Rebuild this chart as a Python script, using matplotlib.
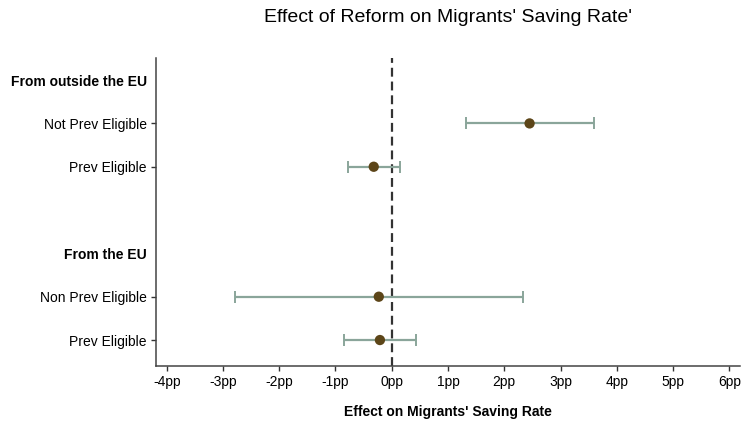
import numpy as np
import matplotlib.pyplot as plt

# coefficient estimates with 95% confidence bounds (percentage points)
labels = ["From outside the EU", "Not Prev Eligible", "Prev Eligible", "",
          "From the EU", "Non Prev Eligible", "Prev Eligible"]
is_header = [True, False, False, True, True, False, False]
coef = [np.nan, 2.45, -0.32, np.nan, np.nan, -0.23, -0.21]
ci_low = [np.nan, 1.32, -0.78, np.nan, np.nan, -2.79, -0.84]
ci_high = [np.nan, 3.59, 0.14, np.nan, np.nan, 2.34, 0.44]
xticks = np.arange(-4, 7)

plt.rcParams['font.family'] = ['Liberation Sans', 'DejaVu Sans']

fig = plt.figure(figsize=(7.43, 4.25), dpi=100)
ax = fig.add_axes([156 / 743, 1 - 365.6 / 425, (740 - 156) / 743, (365.6 - 58) / 425])

pos = np.arange(1, len(labels) + 1)
coef = np.array(coef)
lo = np.array(ci_low)
hi = np.array(ci_high)
ok = ~np.isnan(coef)

ax.axvline(0, color='#333333', lw=1.6, ls=(0, (4, 2.2)), zorder=1)
ax.errorbar(coef[ok], pos[ok], xerr=[coef[ok] - lo[ok], hi[ok] - coef[ok]],
            fmt='none', ecolor='#8aa59a', elinewidth=1.6, capsize=4, capthick=1.4, zorder=2)
ax.scatter(coef[ok], pos[ok], s=55, color='#5c4518', zorder=3, edgecolors='none')

ax.set_xlim(-4.19, 6.19)
ax.set_ylim(7.59, 0.49)
ax.set_xticks(xticks)
ax.set_xticklabels([f"{v}pp" for v in xticks], fontsize=10)

ax.set_yticks(pos)
ax.set_yticklabels(labels, fontsize=10)
for t, lab, h in zip(ax.yaxis.get_major_ticks(), ax.get_yticklabels(), is_header):
    if h:
        t.tick1line.set_visible(False)
        lab.set_fontweight('bold')

ax.tick_params(axis='both', length=3.6, width=1, color='#333333', pad=3)
for s in ['top', 'right']:
    ax.spines[s].set_visible(False)
for s in ['left', 'bottom']:
    ax.spines[s].set_color('#444444')
    ax.spines[s].set_linewidth(1.1)

ax.set_xlabel("Effect on Migrants' Saving Rate", fontsize=10, fontweight='bold', labelpad=12)
fig.text(448 / 743, 1 - 18 / 425, "Effect of Reform on Migrants' Saving Rate'",
         ha='center', va='center', fontsize=14)

fig.savefig('out.png', dpi=100, facecolor='white')
